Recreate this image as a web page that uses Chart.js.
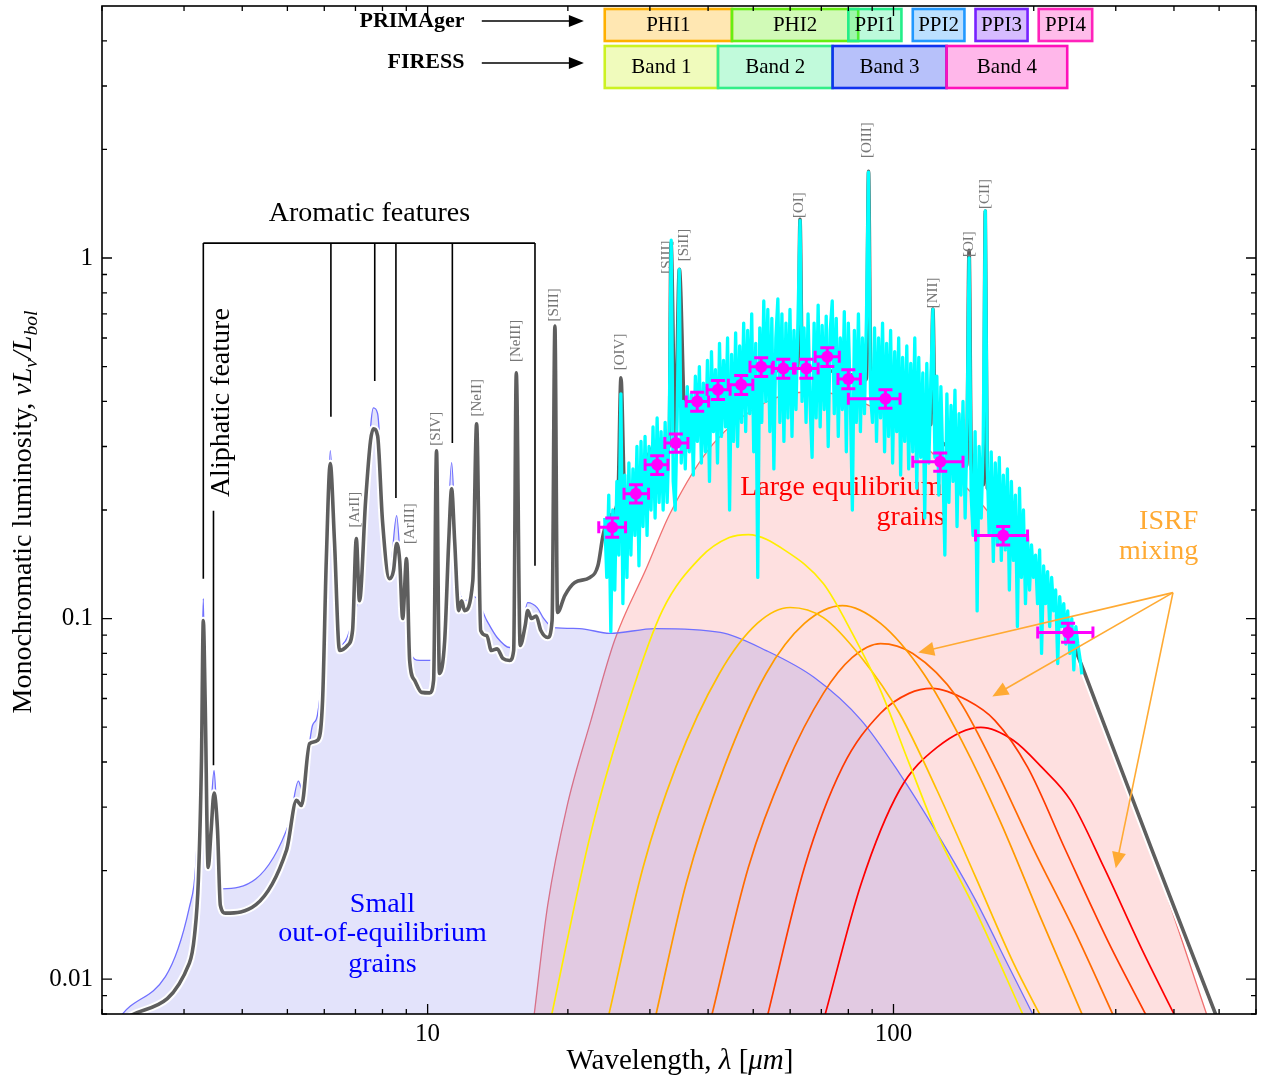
<!DOCTYPE html>
<html>
<head>
<meta charset="utf-8">
<script src="https://cdn.jsdelivr.net/npm/chart.js@4.4.1/dist/chart.umd.min.js"></script>
<style>
  body { margin: 0; background: #fff; }
  #wrap { width: 1262px; height: 1080px; }
</style>
</head>
<body>
<div id="wrap"><canvas id="mycanvas" width="1262" height="1080"></canvas></div>
<script>
// ---- data (wavelength in micron, nuLnu/Lbol) ----
var totalWave = [2.26,3.08,3.16,3.22,3.27,3.30,3.33,3.38,3.43,3.48,3.54,3.59,3.68,4.98,5.23,5.36,5.58,5.80,5.95,6.06,
  6.18,6.31,6.47,6.73,6.90,7.03,7.14,7.36,7.54,7.65,7.81,8.0,8.28,8.45,8.58,8.71,8.84,9.01,9.15,9.38,
  9.71,10.1,10.3,10.45,10.6,10.88,11.1,11.26,11.43,11.66,11.83,12.0,12.5,12.74,13.0,13.4,13.7,14.1,14.5,15.0,
  15.3,15.5,15.8,16.2,16.4,16.7,17.1,17.5,18.1,18.5,18.76,19.0,19.7,20.7,22.3,23.2,23.8,24.6,25.6,26.0,
  26.5,28.6,31.5,33.0,33.3,34.0,34.7,35.7,42.5,51.8,60.0,62.4,63.0,63.7,73.2,82.8,87.4,88.4,89.4,98.5,
  109,117,120.2,121.5,122.9,133,141,143.6,145.3,147,154,156.0,157.4,159.0,162,178,207,240,279,357,
  495];
var totalLum = [0.0078,0.01107,0.01324,0.0188,0.0404,0.0987,0.0593,0.0204,0.0259,0.0328,0.0259,0.016,0.01524,0.0228,0.0313,0.0303,0.045,0.0459,0.0593,0.145,
  0.269,0.164,0.0815,0.0842,0.0926,0.1666,0.112,0.212,0.311,0.336,0.321,0.187,0.129,0.136,0.1613,0.1447,0.1,0.1466,0.0765,0.0674,
  0.0624,0.0622,0.0674,0.292,0.0704,0.0869,0.164,0.229,0.164,0.1052,0.112,0.1052,0.127,0.347,0.0926,0.0897,0.0815,0.0824,0.0775,0.0765,
  0.0815,0.480,0.0842,0.0957,0.1052,0.1,0.1016,0.0926,0.0886,0.0987,0.648,0.1039,0.1158,0.1259,0.130,0.140,0.170,0.193,0.212,0.465,
  0.219,0.257,0.311,0.30,1.10,0.32,0.93,0.353,0.4147,0.471,0.493,0.50,1.28,0.50,0.486,0.471,0.46,1.74,0.45,0.415,
  0.377,0.3535,0.345,0.722,0.335,0.301,0.270,0.265,1.05,0.26,0.241,0.235,1.35,0.23,0.226,0.175,0.127,0.088,0.0535,0.0232,
  0.0078];

var smallWave = [2.18,3.08,3.20,3.27,3.30,3.33,3.38,3.43,3.48,3.53,3.62,5.05,5.28,5.38,5.66,5.80,6.03,6.18,6.31,6.47,
  6.80,7.25,7.43,7.65,7.81,8.08,8.28,8.58,8.79,9.15,9.61,10.1,10.9,11.26,11.45,11.7,12.0,12.6,13.4,14.1,
  15.0,15.8,16.4,17.2,17.7,18.6,21.2,24.6,30.8,42.5,53.3,67.6,85.3,103,124,150,177,203];
var smallLum = [0.0078,0.0158,0.024,0.06,0.1136,0.05,0.0214,0.03,0.0379,0.028,0.0178,0.0272,0.0354,0.0334,0.0505,0.054,0.0987,0.292,0.17,0.0842,
  0.0926,0.1447,0.257,0.384,0.37,0.175,0.1316,0.193,0.127,0.0815,0.0765,0.0765,0.1123,0.2705,0.18,0.1196,0.112,0.115,0.0987,0.0886,
  0.0831,0.087,0.1107,0.107,0.1006,0.0944,0.0938,0.0909,0.0938,0.0915,0.0815,0.0686,0.0522,0.0372,0.0254,0.01655,0.0108,0.0076];

var largeWave = [16.9,18.1,19.9,22.4,25.2,29.5,33.1,41.0,53.6,66.3,79.6,102,131,159,197,240,279,357,473];
var largeLum = [0.0078,0.016,0.030,0.052,0.087,0.138,0.195,0.305,0.400,0.425,0.412,0.351,0.260,0.199,0.136,0.0869,0.0522,0.0228,0.0078];

// ISRF mixing components, warmest first
var isrf1Wave = [18.4,22.4,27.1,31.9,38.5,44.4,48.8,58.6,70.7,81.6,93.8,108,124,150,191];
var isrf1Lum = [0.0078,0.0254,0.0593,0.1052,0.1476,0.1677,0.1709,0.1543,0.125,0.0909,0.0632,0.0397,0.0254,0.0155,0.0078];
var isrf2Wave = [24.4,29.0,34.1,42.3,51.0,60.0,70.7,85.3,103,124,150,181,208];
var isrf2Lum = [0.0078,0.0204,0.0387,0.0704,0.0969,0.1073,0.1006,0.078,0.0546,0.0334,0.0192,0.01107,0.0078];
var isrf3Wave = [30.8,35.9,43.3,53.3,64.4,77.7,93.8,116,140,169,208,256];
var isrf3Lum = [0.0078,0.01845,0.0387,0.0704,0.0969,0.1086,0.0969,0.0704,0.0459,0.0276,0.01457,0.0078];
var isrf4Wave = [40.6,48.8,58.6,70.7,81.6,93.8,110,137,165,199,246,298];
var isrf4Lum = [0.0078,0.0204,0.0387,0.062,0.078,0.0852,0.08,0.0604,0.0387,0.0232,0.0134,0.0078];
var isrf5Wave = [53.5,64.4,77.7,93.8,108,121,144,165,194,234,290,351];
var isrf5Lum = [0.0078,0.0204,0.0387,0.0546,0.062,0.064,0.0593,0.0522,0.0387,0.0228,0.01258,0.0078];
var isrf6Wave = [71.0,85.3,103,124,154,181,208,240,283,342,404];
var isrf6Lum = [0.0078,0.01845,0.0334,0.0439,0.0499,0.0459,0.0387,0.0313,0.0204,0.01203,0.0078];

// mock spectrum
var specWave = [24.00,24.24,24.48,24.73,24.97,25.22,25.48,25.73,25.99,26.25,
  26.51,26.78,27.04,27.31,27.59,27.86,28.14,28.42,28.71,29.00,
  29.29,29.58,29.87,30.17,30.47,30.78,31.09,31.40,31.71,32.03,
  32.35,32.67,33.00,33.33,33.66,34.00,34.34,34.68,35.03,35.38,
  35.73,36.09,36.45,36.82,37.18,37.56,37.93,38.31,38.69,39.08,
  39.47,39.87,40.27,40.67,41.07,41.48,41.90,42.32,42.74,43.17,
  43.60,44.04,44.48,44.92,45.37,45.83,46.28,46.75,47.21,47.69,
  48.16,48.64,49.13,49.62,50.12,50.62,51.13,51.64,52.15,52.67,
  53.20,53.73,54.27,54.81,55.36,55.91,56.47,57.04,57.61,58.18,
  58.77,59.35,59.95,60.55,61.15,61.76,62.38,63.01,63.64,64.27,
  64.91,65.56,66.22,66.88,67.55,68.23,68.91,69.60,70.29,71.00,
  71.71,72.42,73.15,73.88,74.62,75.36,76.12,76.88,77.65,78.42,
  79.21,80.00,80.80,81.61,82.42,83.25,84.08,84.92,85.77,86.63,
  87.49,88.37,89.25,90.14,91.05,91.96,92.88,93.80,94.74,95.69,
  96.65,97.61,98.59,99.57,100.6,101.6,102.6,103.6,104.6,105.7,
  106.8,107.8,108.9,110.0,111.1,112.2,113.3,114.4,115.6,116.7,
  117.9,119.1,120.3,121.5,122.7,123.9,125.1,126.4,127.7,128.9,
  130.2,131.5,132.9,134.2,135.5,136.9,138.3,139.6,141.0,142.5,
  143.9,145.3,146.8,148.2,149.7,151.2,152.7,154.3,155.8,157.4,
  158.9,160.5,162.1,163.8,165.4,167.1,168.7,170.4,172.1,173.8,
  175.6,177.3,179.1,180.9,182.7,184.5,186.4,188.2,190.1,192.0,
  193.9,195.9,197.8,199.8,201.8,203.8,205.9,207.9,210.0,212.1,
  214.2,216.4,218.5,220.7,222.9,225.2,227.4,229.7,232.0,234.3,
  236.6,239.0,241.4,243.8,246.3,248.7,251.2,253.7];
var specLum = [0.19,0.13,0.22,0.092,0.20,0.12,0.24,0.15,0.42,0.11,
  0.25,0.13,0.27,0.15,0.26,0.17,0.30,0.14,0.31,0.18,
  0.32,0.17,0.30,0.20,0.34,0.19,0.36,0.21,0.33,0.20,
  0.35,0.21,0.33,1.12,0.24,0.20,0.37,0.93,0.27,0.40,
  0.26,0.44,0.29,0.42,0.25,0.47,0.31,0.50,0.27,0.45,
  0.29,0.52,0.24,0.55,0.33,0.49,0.27,0.58,0.32,0.52,
  0.34,0.60,0.20,0.54,0.31,0.62,0.30,0.57,0.35,0.66,
  0.33,0.63,0.37,0.70,0.29,0.58,0.13,0.64,0.35,0.76,
  0.40,0.72,0.33,0.68,0.26,0.60,0.77,0.35,0.70,0.31,
  0.66,0.36,0.72,0.32,0.63,0.38,0.68,1.27,0.40,0.64,
  0.35,0.70,0.39,0.28,0.66,0.36,0.74,0.34,0.65,0.38,
  0.69,0.30,0.63,0.76,0.37,0.68,0.32,0.60,0.38,0.71,
  0.29,0.66,0.40,0.20,0.63,0.35,0.70,0.33,0.60,0.37,
  0.68,1.73,0.42,0.35,0.64,0.31,0.60,0.36,0.66,0.29,
  0.58,0.32,0.63,0.27,0.55,0.33,0.60,0.25,0.53,0.31,
  0.57,0.26,0.51,0.29,0.60,0.23,0.53,0.28,0.48,0.19,
  0.51,0.27,0.46,0.72,0.28,0.47,0.22,0.44,0.26,0.15,
  0.42,0.21,0.39,0.24,0.43,0.18,0.37,0.22,0.40,0.19,
  0.35,1.0,0.22,0.17,0.33,0.105,0.30,0.19,0.31,1.35,
  0.27,0.17,0.29,0.144,0.27,0.16,0.28,0.145,0.25,0.155,
  0.26,0.12,0.24,0.145,0.22,0.095,0.23,0.13,0.20,0.11,
  0.17,0.12,0.16,0.13,0.15,0.11,0.155,0.08,0.14,0.11,
  0.135,0.095,0.13,0.105,0.12,0.075,0.115,0.095,0.11,0.085,
  0.105,0.08,0.10,0.072,0.095,0.085,0.078,0.07];

// broad-band photometry with errors
var photWave = [24.9,28.0,31.1,34.1,37.9,42.0,47.1,52.0,58.0,65.0,72.1,80.0,96.1,126,172,237];
var photWaveLo = [23.3,26.4,29.3,32.3,35.9,39.8,44.2,49.2,54.9,61.0,67.9,76.0,80.0,110,150,204];
var photWaveHi = [26.6,29.8,32.8,36.2,40.1,44.6,49.9,55.2,61.5,68.9,76.5,84.9,103.3,141,194,268];
var photLum = [0.179,0.222,0.267,0.307,0.400,0.431,0.445,0.499,0.494,0.494,0.532,0.462,0.407,0.272,0.170,0.0915];
var photLumLo = [0.168,0.209,0.251,0.289,0.376,0.405,0.418,0.469,0.464,0.464,0.500,0.434,0.383,0.256,0.160,0.086];
var photLumHi = [0.190,0.235,0.283,0.325,0.424,0.457,0.472,0.529,0.524,0.524,0.564,0.490,0.431,0.288,0.180,0.097];

// line identifications
var ionNames = ['[ArII]','[ArIII]','[SIV]','[NeII]','[NeIII]','[SIII]','[OIV]','[SIII]','[SiII]','[OI]','[OIII]','[NII]','[OI]','[CII]'];
var ionWave = [6.97,9.15,10.45,12.74,15.5,18.66,25.9,32.7,35.5,62.8,87.9,121.9,145,157];
var ionLabelLum = [0.2004,0.1833,0.336,0.4096,0.589,0.741,0.549,1.006,1.086,1.402,2.123,0.80,1.093,1.504];

// dust bands
var aromaticWave = [3.3,6.2,7.7,8.55,11.3,17.0];
var aromaticLineEnd = [0.129,0.363,0.456,0.216,0.307,0.140];

// instrument bands
var primagerNames = ['PHI1','PHI2','PPI1','PPI2','PPI3','PPI4'];
var primagerLo = [24,45,80,110,150,205];
var primagerHi = [45,84,104,142,194,267];
var primagerColors = ['#ffb000','#66ee11','#22ee88','#2299ff','#7722ff','#ff22bb'];
var firessNames = ['Band 1','Band 2','Band 3','Band 4'];
var firessLo = [24,42,74,130];
var firessHi = [42,74,130,236];
var firessColors = ['#ccf222','#33ee88','#1133ee','#ff11bb'];

var xMajor = [10,100];
var yMajor = [0.01,0.1,1];

var SERIF = "'Liberation Serif', 'Times New Roman', serif";

function pairs(w, l) {
  return w.map(function(v, i) { return {x: v, y: l[i]}; });
}

function curve(label, w, l, color, width, order) {
  return {
    label: label, data: pairs(w, l), borderColor: color, borderWidth: width,
    pointRadius: 0, cubicInterpolationMode: 'monotone', fill: false, order: order
  };
}

function hexA(hex, a) {
  var r = parseInt(hex.substr(1,2),16), g = parseInt(hex.substr(3,2),16), b = parseInt(hex.substr(5,2),16);
  return 'rgba(' + r + ',' + g + ',' + b + ',' + a + ')';
}

function drawRich(ctx, parts, x, y, size, align) {
  var total = 0;
  parts.forEach(function(p) {
    ctx.font = (p.it ? 'italic ' : '') + (p.sub ? size * 0.7 : size) + 'px ' + SERIF;
    p.w = ctx.measureText(p.t).width;
    total += p.w;
  });
  var cx = align === 'center' ? x - total / 2 : x;
  ctx.textAlign = 'left';
  ctx.textBaseline = 'middle';
  parts.forEach(function(p) {
    ctx.font = (p.it ? 'italic ' : '') + (p.sub ? size * 0.7 : size) + 'px ' + SERIF;
    ctx.fillText(p.t, cx, y + (p.sub ? size * 0.28 : 0));
    cx += p.w;
  });
}

function arrowHead(ctx, x0, y0, x1, y1, len, half) {
  var a = Math.atan2(y1 - y0, x1 - x0);
  ctx.beginPath();
  ctx.moveTo(x1, y1);
  ctx.lineTo(x1 - len * Math.cos(a) + half * Math.sin(a), y1 - len * Math.sin(a) - half * Math.cos(a));
  ctx.lineTo(x1 - len * Math.cos(a) - half * Math.sin(a), y1 - len * Math.sin(a) + half * Math.cos(a));
  ctx.closePath();
  ctx.fill();
}

var IDX_PHOT = 0, IDX_SPEC = 1;

var annotations = {
  id: 'annotations',
  beforeDatasetDraw: function(chart, args) {
    var ctx = chart.ctx, xs = chart.scales.x, ys = chart.scales.y;
    if (args.index === IDX_SPEC) {
      ctx.save();
      // aromatic bracket
      ctx.strokeStyle = '#000'; ctx.lineWidth = 1.6;
      var top = ys.getPixelForValue(1.10);
      ctx.beginPath();
      ctx.moveTo(xs.getPixelForValue(aromaticWave[0]), top);
      ctx.lineTo(xs.getPixelForValue(aromaticWave[aromaticWave.length - 1]), top);
      aromaticWave.forEach(function(w, i) {
        var px = xs.getPixelForValue(w);
        ctx.moveTo(px, top);
        ctx.lineTo(px, ys.getPixelForValue(aromaticLineEnd[i]));
      });
      var ax = xs.getPixelForValue(3.47);
      ctx.moveTo(ax, ys.getPixelForValue(0.199));
      ctx.lineTo(ax, ys.getPixelForValue(0.0392));
      ctx.stroke();

      ctx.fillStyle = '#000';
      ctx.font = '28px ' + SERIF;
      ctx.textAlign = 'center'; ctx.textBaseline = 'middle';
      ctx.fillText('Aromatic features', xs.getPixelForValue(7.5), ys.getPixelForValue(1.33));
      ctx.save();
      ctx.translate(xs.getPixelForValue(3.61), ys.getPixelForValue(0.397));
      ctx.rotate(-Math.PI / 2);
      ctx.fillText('Aliphatic feature', 0, 0);
      ctx.restore();

      // region labels
      ctx.fillStyle = '#ff0000';
      ctx.textAlign = 'right';
      ctx.fillText('Large equilibrium', xs.getPixelForValue(127.5), ys.getPixelForValue(0.231));
      ctx.fillText('grains', xs.getPixelForValue(129), ys.getPixelForValue(0.1905));
      ctx.fillStyle = '#ffaa33';
      ctx.fillText('ISRF', xs.getPixelForValue(451), ys.getPixelForValue(0.1857));
      ctx.fillText('mixing', xs.getPixelForValue(451), ys.getPixelForValue(0.153));
      ctx.fillStyle = '#0000ff';
      ctx.textAlign = 'center';
      ctx.fillText('Small', xs.getPixelForValue(8.0), ys.getPixelForValue(0.0161));
      ctx.fillText('out-of-equilibrium', xs.getPixelForValue(8.0), ys.getPixelForValue(0.01333));
      ctx.fillText('grains', xs.getPixelForValue(8.0), ys.getPixelForValue(0.01093));

      // ion labels
      ctx.fillStyle = '#777777';
      ctx.font = '15px ' + SERIF;
      ionNames.forEach(function(n, i) {
        ctx.save();
        ctx.translate(xs.getPixelForValue(ionWave[i]), ys.getPixelForValue(ionLabelLum[i]));
        ctx.rotate(-Math.PI / 2);
        ctx.fillText(n, 0, 0);
        ctx.restore();
      });
      ctx.restore();
    }
    if (args.index === IDX_PHOT) {
      ctx.save();
      ctx.strokeStyle = '#ff00ff'; ctx.lineWidth = 3;
      photWave.forEach(function(w, i) {
        var px = xs.getPixelForValue(w), py = ys.getPixelForValue(photLum[i]);
        var x0 = xs.getPixelForValue(photWaveLo[i]), x1 = xs.getPixelForValue(photWaveHi[i]);
        var y0 = ys.getPixelForValue(photLumLo[i]), y1 = ys.getPixelForValue(photLumHi[i]);
        ctx.beginPath();
        ctx.moveTo(x0, py); ctx.lineTo(x1, py);
        ctx.moveTo(x0, py - 6); ctx.lineTo(x0, py + 6);
        ctx.moveTo(x1, py - 6); ctx.lineTo(x1, py + 6);
        ctx.moveTo(px, y0); ctx.lineTo(px, y1);
        ctx.moveTo(px - 7, y0); ctx.lineTo(px + 7, y0);
        ctx.moveTo(px - 7, y1); ctx.lineTo(px + 7, y1);
        ctx.stroke();
      });
      ctx.restore();
    }
  },
  afterDraw: function(chart) {
    var ctx = chart.ctx, xs = chart.scales.x, ys = chart.scales.y, ca = chart.chartArea;
    ctx.save();

    // ISRF arrows
    ctx.strokeStyle = '#ffaa33'; ctx.fillStyle = '#ffaa33'; ctx.lineWidth = 1.6;
    var sx = xs.getPixelForValue(398), sy = ys.getPixelForValue(0.118);
    [[113, 0.0805], [163, 0.0608], [300, 0.0203]].forEach(function(t) {
      var tx = xs.getPixelForValue(t[0]), ty = ys.getPixelForValue(t[1]);
      var a = Math.atan2(ty - sy, tx - sx);
      ctx.beginPath();
      ctx.moveTo(sx, sy);
      ctx.lineTo(tx - 10 * Math.cos(a), ty - 10 * Math.sin(a));
      ctx.stroke();
      arrowHead(ctx, sx, sy, tx, ty, 16, 7);
    });

    // instrument bands
    ctx.lineWidth = 2.6;
    ctx.textAlign = 'center'; ctx.textBaseline = 'middle';
    ctx.font = '21px ' + SERIF;
    primagerNames.forEach(function(n, i) {
      var x0 = xs.getPixelForValue(primagerLo[i]), x1 = xs.getPixelForValue(primagerHi[i]);
      var y0 = ca.top + 3, h = 32;
      ctx.fillStyle = hexA(primagerColors[i], 0.3);
      ctx.fillRect(x0, y0, x1 - x0, h);
      ctx.strokeStyle = primagerColors[i];
      ctx.strokeRect(x0, y0, x1 - x0, h);
      ctx.fillStyle = '#000';
      ctx.fillText(n, (x0 + x1) / 2, y0 + h / 2);
    });
    firessNames.forEach(function(n, i) {
      var x0 = xs.getPixelForValue(firessLo[i]), x1 = xs.getPixelForValue(firessHi[i]);
      var y0 = ca.top + 40, h = 42;
      ctx.fillStyle = hexA(firessColors[i], 0.3);
      ctx.fillRect(x0, y0, x1 - x0, h);
      ctx.strokeStyle = firessColors[i];
      ctx.strokeRect(x0, y0, x1 - x0, h);
      ctx.fillStyle = '#000';
      ctx.fillText(n, (x0 + x1) / 2, y0 + h / 2);
    });

    ctx.font = 'bold 22px ' + SERIF;
    ctx.textAlign = 'right';
    ctx.fillStyle = '#000';
    ctx.fillText('PRIMAger', xs.getPixelForValue(12.0), ca.top + 15);
    ctx.fillText('FIRESS', xs.getPixelForValue(12.0), ca.top + 56);
    ctx.strokeStyle = '#000'; ctx.lineWidth = 1.5;
    [ca.top + 15, ca.top + 57].forEach(function(y) {
      var a0 = xs.getPixelForValue(13.07), a1 = xs.getPixelForValue(21.65);
      ctx.beginPath(); ctx.moveTo(a0, y); ctx.lineTo(a1 - 10, y); ctx.stroke();
      arrowHead(ctx, a0, y, a1, y, 15, 6);
    });

    // inward ticks on all sides
    ctx.strokeStyle = '#000'; ctx.lineWidth = 1.3;
    ctx.beginPath();
    for (var d = 1; d <= 100; d *= 10) {
      for (var m = 1; m <= 9; m++) {
        var v = m * d;
        if (v < 2 || v > 600) continue;
        var px = xs.getPixelForValue(v), len = m === 1 ? 10 : 5;
        ctx.moveTo(px, ca.bottom); ctx.lineTo(px, ca.bottom - len);
        ctx.moveTo(px, ca.top); ctx.lineTo(px, ca.top + len);
      }
    }
    for (var e = 0.001; e <= 1.5; e *= 10) {
      for (var k = 1; k <= 9; k++) {
        var yv = k * e;
        if (yv < 0.008 || yv >= 5) continue;
        var py = ys.getPixelForValue(yv), ln = k === 1 ? 10 : 5;
        ctx.moveTo(ca.left, py); ctx.lineTo(ca.left + ln, py);
        ctx.moveTo(ca.right, py); ctx.lineTo(ca.right - ln, py);
      }
    }
    ctx.stroke();
    ctx.lineWidth = 1.6;
    ctx.strokeRect(ca.left, ca.top, ca.right - ca.left, ca.bottom - ca.top);

    // axis titles
    ctx.fillStyle = '#000';
    drawRich(ctx, [{t: 'Wavelength, '}, {t: 'λ', it: true}, {t: ' ['}, {t: 'μm', it: true}, {t: ']'}],
      (ca.left + ca.right) / 2 + 1, ca.bottom + 47, 29, 'center');
    ctx.save();
    ctx.translate(24, (ca.top + ca.bottom) / 2 + 2);
    ctx.rotate(-Math.PI / 2);
    drawRich(ctx, [{t: 'Monochromatic luminosity, '}, {t: 'νL', it: true}, {t: 'ν', it: true, sub: true},
      {t: '/L', it: true}, {t: 'bol', it: true, sub: true}], 0, 0, 28, 'center');
    ctx.restore();
    ctx.restore();
  }
};

var datasets = [
  {label: 'Photometry', data: pairs(photWave, photLum), showLine: false, pointRadius: 6,
   pointBackgroundColor: '#ff00ff', pointBorderWidth: 0, order: 0},
  {label: 'Spectrum', data: pairs(specWave, specLum), borderColor: '#00ffff', borderWidth: 3.3,
   pointRadius: 0, tension: 0, borderJoinStyle: 'round', fill: false, order: 1},
  Object.assign(curve('Total', totalWave, totalLum, '#5e5e5e', 3.6, 2), {borderJoinStyle: 'round', borderCapStyle: 'round'}),
  Object.assign(curve('Total outline', totalWave, totalLum, '#ffffff', 7.5, 3), {borderJoinStyle: 'round'}),
  curve('ISRF 1', isrf1Wave, isrf1Lum, '#ffee00', 1.7, 4),
  curve('ISRF 2', isrf2Wave, isrf2Lum, '#ffbf00', 1.7, 5),
  curve('ISRF 3', isrf3Wave, isrf3Lum, '#ff9900', 1.7, 6),
  curve('ISRF 4', isrf4Wave, isrf4Lum, '#ff6a00', 1.7, 7),
  curve('ISRF 5', isrf5Wave, isrf5Lum, '#ff3a00', 1.7, 8),
  curve('ISRF 6', isrf6Wave, isrf6Lum, '#ff0000', 1.7, 9),
  Object.assign(curve('Small grains', smallWave, smallLum, '#7070ff', 1.3, 10),
    {fill: 'start', backgroundColor: 'rgba(115,115,235,0.2)'}),
  Object.assign(curve('Large grains', largeWave, largeLum, '#f07070', 1.3, 11),
    {fill: 'start', backgroundColor: 'rgba(250,110,110,0.21)'})
];

Chart.defaults.font.family = SERIF;

var ctx = document.getElementById('mycanvas');
var chart = new Chart(ctx, {
  type: 'line',
  data: {datasets: datasets},
  plugins: [annotations],
  options: {
    responsive: false,
    animation: false,
    devicePixelRatio: 1,
    layout: {padding: {left: 0, top: 5, right: 6, bottom: 0}},
    plugins: {legend: {display: false}, tooltip: {enabled: false}},
    events: [],
    scales: {
      x: {
        type: 'logarithmic', position: 'bottom', min: 2, max: 600,
        grid: {display: false, drawTicks: false}, border: {display: false},
        ticks: {font: {family: SERIF, size: 25}, color: '#000', padding: 5, maxRotation: 0, autoSkip: false,
          callback: function(v) { return String(v); }},
        afterBuildTicks: function(s) { s.ticks = xMajor.map(function(v) { return {value: v}; }); },
        afterFit: function(s) { s.height = 66; s.paddingLeft = 0; s.paddingRight = 0; }
      },
      y: {
        type: 'logarithmic', position: 'left', min: 0.008, max: 5,
        grid: {display: false, drawTicks: false}, border: {display: false},
        ticks: {font: {family: SERIF, size: 25}, color: '#000', padding: 9, autoSkip: false,
          callback: function(v) { return String(v); }},
        afterBuildTicks: function(s) { s.ticks = yMajor.map(function(v) { return {value: v}; }); },
        afterFit: function(s) { s.width = 102; s.paddingTop = 0; s.paddingBottom = 0; }
      }
    }
  }
});
</script>
</body>
</html>
